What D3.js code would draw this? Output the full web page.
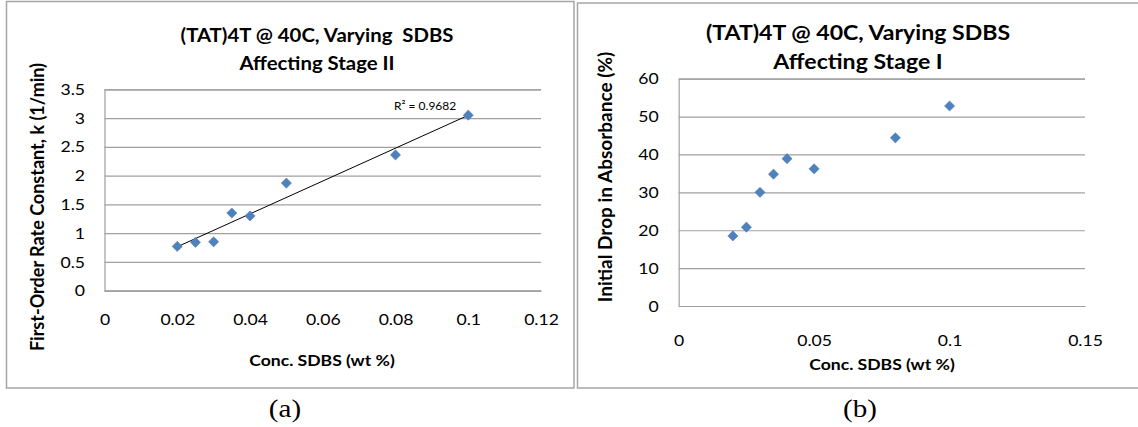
<!DOCTYPE html>
<html>
<head>
<meta charset="utf-8">
<script src="https://cdn.jsdelivr.net/npm/d3@7"></script>
<style>
  html, body { margin: 0; padding: 0; background: #fff; }
  svg { display: block; }
  text { font-family: Lato, "Open Sans", sans-serif; fill: #000; white-space: pre; }
</style>
</head>
<body>
<svg id="fig" width="1138" height="427"></svg>
<script>
// SDBS concentrations (wt %)
const concSDBS = [0.02, 0.025, 0.03, 0.035, 0.04, 0.05, 0.08, 0.1];
// (a) first-order rate constant k (1/min), stage II
const rateK = [0.77, 0.84, 0.85, 1.35, 1.30, 1.87, 2.36, 3.05];
// (b) initial drop in absorbance (%), stage I
const initialDrop = [18.5, 20.8, 30.0, 34.8, 38.9, 36.2, 44.4, 52.8];

const xTicksA = [0, 0.02, 0.04, 0.06, 0.08, 0.1, 0.12];
const yTicksA = [0, 0.5, 1, 1.5, 2, 2.5, 3, 3.5];
const xTicksB = [0, 0.05, 0.1, 0.15];
const yTicksB = [0, 10, 20, 30, 40, 50, 60];

const r2Label = "R² = 0.9682";

const svg = d3.select("#fig");
const markerColor = "#4f81bd";
const gridColor = "#a0a0a0";
const SX = 1.1; // horizontal widening applied to horizontal text

// outer frames of the two chart panels
svg.append("rect").attr("x", 6.5).attr("y", 1.5).attr("width", 567.5).attr("height", 386.5)
  .attr("fill", "none").attr("stroke", "#a6a6a6").attr("stroke-width", 1.5);
svg.append("rect").attr("x", 577.5).attr("y", 3).attr("width", 570).attr("height", 385)
  .attr("fill", "none").attr("stroke", "#a6a6a6").attr("stroke-width", 1.5);

// horizontally widened text anchored at (x, y)
function wideText(parent, x, y, str, size, weight, anchor, sx) {
  return parent.append("g").attr("transform", `translate(${x},${y})`)
    .append("text").attr("transform", `scale(${sx || SX},1)`)
    .attr("text-anchor", anchor || "middle")
    .style("font-size", size + "px").style("font-weight", weight || "normal")
    .text(str);
}

function panel(cfg) {
  const x = d3.scaleLinear().domain(cfg.xDomain).range(cfg.xRange);
  const y = d3.scaleLinear().domain(cfg.yDomain).range(cfg.yRange);
  const g = svg.append("g");
  const w = cfg.xRange[1] - cfg.xRange[0];

  // horizontal gridlines + y tick labels
  const yAxis = g.append("g").attr("transform", `translate(${cfg.xRange[0]},0)`)
    .call(d3.axisLeft(y).tickValues(cfg.yTicks).tickSize(-w).tickPadding(cfg.yPad / SX)
      .tickFormat(d3.format("~g")));
  yAxis.select(".domain").attr("stroke", gridColor).attr("stroke-width", 1.2);
  yAxis.selectAll(".tick line").attr("stroke", gridColor).attr("stroke-width", 1.2);
  yAxis.selectAll(".tick text").style("font-size", cfg.tickFont + "px").attr("fill", "#000")
    .attr("transform", `scale(${SX},1)`);

  // x axis line + tick labels
  const xAxis = g.append("g").attr("transform", `translate(0,${cfg.yRange[0]})`)
    .call(d3.axisBottom(x).tickValues(cfg.xTicks).tickSize(0).tickPadding(cfg.xPad)
      .tickFormat(d3.format("~g")));
  xAxis.select(".domain").attr("stroke", gridColor).attr("stroke-width", 1.2);
  xAxis.selectAll(".tick text").style("font-size", cfg.tickFont + "px").attr("fill", "#000")
    .attr("transform", `scale(${SX},1)`);

  // title
  cfg.title.forEach((line, i) => {
    wideText(g, cfg.titleX, cfg.titleY[i], line, cfg.titleFont, "bold");
  });

  // axis titles
  wideText(g, cfg.xTitlePos[0], cfg.xTitlePos[1], cfg.xTitle, cfg.xAxisFont, "bold");
  g.append("text").attr("text-anchor", "middle")
    .attr("transform", `translate(${cfg.yTitlePos[0]},${cfg.yTitlePos[1]}) rotate(-90)`)
    .style("font-size", cfg.yAxisFont + "px").style("font-weight", "bold")
    .text(cfg.yTitle);

  // least-squares trendline
  if (cfg.trend) {
    const xs = cfg.xs, ys = cfg.ys;
    const mx = d3.mean(xs), my = d3.mean(ys);
    const sxy = d3.sum(xs, (v, i) => (v - mx) * (ys[i] - my));
    const sxx = d3.sum(xs, v => (v - mx) * (v - mx));
    const slope = sxy / sxx, icpt = my - slope * mx;
    const ends = d3.extent(xs);
    g.append("line")
      .attr("x1", x(ends[0])).attr("y1", y(icpt + slope * ends[0]))
      .attr("x2", x(ends[1])).attr("y2", y(icpt + slope * ends[1]))
      .attr("stroke", "#000").attr("stroke-width", 1);
    const lastY = icpt + slope * ends[1];
    wideText(g, x(ends[1]) - 12, y(lastY) - 5, cfg.trendLabel, 12, "normal", "end", 1);
  }

  // data markers (diamonds)
  const sym = d3.symbol().type(d3.symbolSquare).size(52);
  g.selectAll("path.pt").data(cfg.xs.map((v, i) => [v, cfg.ys[i]]))
    .join("path").attr("class", "pt")
    .attr("d", sym)
    .attr("transform", d => `translate(${x(d[0])},${y(d[1])}) rotate(45)`)
    .attr("fill", markerColor).attr("stroke", "#4a7ab5").attr("stroke-width", 0.5);

  // caption
  wideText(svg, cfg.capPos[0], cfg.capPos[1], cfg.caption, 26, "normal", "middle", 1.12)
    .style("font-family", "'Liberation Serif', 'DejaVu Serif', serif");
}

panel({
  xs: concSDBS, ys: rateK,
  xDomain: [0, 0.12], yDomain: [0, 3.5],
  xRange: [104.5, 541], yRange: [290.7, 89.3],
  xTicks: xTicksA, yTicks: yTicksA,
  tickFont: 16, xPad: 22.5, yPad: 19.5,
  title: ["(TAT)4T @ 40C, Varying  SDBS", "Affecting Stage II"],
  titleX: 317, titleY: [41.5, 70], titleFont: 18.5,
  xTitle: "Conc. SDBS (wt %)", xTitlePos: [322, 366], xAxisFont: 16,
  yTitle: "First-Order Rate Constant, k (1/min)", yTitlePos: [44, 207], yAxisFont: 18,
  trend: true, trendLabel: r2Label,
  caption: "(a)", capPos: [285, 417]
});

panel({
  xs: concSDBS, ys: initialDrop,
  xDomain: [0, 0.15], yDomain: [0, 60],
  xRange: [678.7, 1085], yRange: [306, 78.7],
  xTicks: xTicksB, yTicks: yTicksB,
  tickFont: 16, xPad: 28.5, yPad: 20,
  title: ["(TAT)4T @ 40C, Varying SDBS", "Affecting Stage I"],
  titleX: 858, titleY: [39.5, 68.5], titleFont: 21,
  xTitle: "Conc. SDBS (wt %)", xTitlePos: [882, 370], xAxisFont: 16,
  yTitle: "Initial Drop in Absorbance (%)", yTitlePos: [612, 177], yAxisFont: 19,
  trend: false,
  caption: "(b)", capPos: [860, 417]
});
</script>
</body>
</html>
